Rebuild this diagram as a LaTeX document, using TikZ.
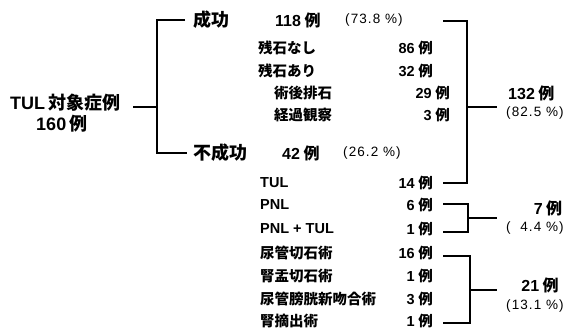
\documentclass[tikz,border=0pt]{standalone}
\usepackage{fontspec}
\setmainfont{Liberation Sans}
\newfontfamily\cjk{Noto Sans CJK JP}
\newfontfamily\pctfont[LetterSpace=8]{Liberation Sans}
\newcommand\JP[1]{{\cjk #1}}
\newcommand\Rei{\hspace{3.5pt}\JP{例}}
\begin{document}
\begin{tikzpicture}[x=1pt,y=-1pt,
  big/.style={inner sep=0pt,font=\fontsize{18}{18}\selectfont\bfseries},
  num/.style={inner sep=0pt,font=\fontsize{16}{16}\selectfont\bfseries},
  pct/.style={inner sep=0pt,font=\fontsize{13.5}{13.5}\pctfont},
  item/.style={inner sep=0pt,font=\fontsize{14.5}{14.5}\selectfont\bfseries},
  res/.style={inner sep=0pt,font=\fontsize{16}{16}\selectfont\bfseries},
  ln/.style={line width=1.1pt}]
\useasboundingbox[fill=white] (0,0) rectangle (572,331);
% left
\node[big,anchor=west] (tul) at (10,103) {TUL\,\JP{対象症例}};
\node[big] (n160) at (62,124) {160\Rei};
\coordinate (L0) at (133,107);
\coordinate (L1) at (157,107);
\coordinate (Lt) at (157,20);
\coordinate (Lb) at (157,153);
\coordinate (Lte) at (185,20);
\coordinate (Lbe) at (187,153);
\draw[ln] (L0) -- (L1);
\draw[ln] (Lte) -- (Lt) -- (Lb) -- (Lbe);
% success
\node[big,anchor=west] (seiko) at (193,20) {\JP{成功}};
\node[num,anchor=west] (n118) at (275,20) {118\Rei};
\node[pct,anchor=west] (p738) at (345,20) {(73.8 \%)};
\node[item,anchor=west] (a1) at (258,48) {\JP{残石なし}};
\node[item,anchor=east] (b1) at (433,48) {86\Rei};
\node[item,anchor=west] (a2) at (258,71) {\JP{残石あり}};
\node[item,anchor=east] (b2) at (433,71) {32\Rei};
\node[item,anchor=west] (a3) at (274,93) {\JP{術後排石}};
\node[item,anchor=east] (b3) at (450,93) {29\Rei};
\node[item,anchor=west] (a4) at (274,115) {\JP{経過観察}};
\node[item,anchor=east] (b4) at (450,115) {3\Rei};
% failure
\node[big,anchor=west] (fuseiko) at (193,153) {\JP{不成功}};
\node[num,anchor=west] (n42) at (282,153) {42\Rei};
\node[pct,anchor=west] (p262) at (343,153) {(26.2 \%)};
\node[item,anchor=west] (c1) at (260,183) {TUL};
\node[item,anchor=east] (d1) at (433,183) {14\Rei};
\node[item,anchor=west] (c2) at (260,205) {PNL};
\node[item,anchor=east] (d2) at (433,205) {6\Rei};
\node[item,anchor=west] (c3) at (260,229) {PNL + TUL};
\node[item,anchor=east] (d3) at (433,229) {1\Rei};
\node[item,anchor=west] (c4) at (260,253) {\JP{尿管切石術}};
\node[item,anchor=east] (d4) at (433,253) {16\Rei};
\node[item,anchor=west] (c5) at (260,276) {\JP{腎盂切石術}};
\node[item,anchor=east] (d5) at (433,276) {1\Rei};
\node[item,anchor=west] (c6) at (260,299) {\JP{尿管膀胱新吻合術}};
\node[item,anchor=east] (d6) at (433,299) {3\Rei};
\node[item,anchor=west] (c7) at (260,321) {\JP{腎摘出術}};
\node[item,anchor=east] (d7) at (433,321) {1\Rei};
% bracket A
\coordinate (A1) at (443,21);
\coordinate (A2) at (467,21);
\coordinate (A3) at (467,183);
\coordinate (A4) at (443,183);
\coordinate (Am) at (467,107);
\coordinate (Ae) at (497,107);
\draw[ln] (A1) -- (A2) -- (A3) -- (A4);
\draw[ln] (Am) -- (Ae);
\node[res,anchor=west] (n132) at (508,93) {132\Rei};
\node[pct,anchor=west] (p825) at (506,113) {(82.5 \%)};
% bracket B
\coordinate (B1) at (443,204);
\coordinate (B2) at (468,204);
\coordinate (B3) at (468,232);
\coordinate (B4) at (443,232);
\coordinate (Bm) at (468,218);
\coordinate (Be) at (497,218);
\draw[ln] (B1) -- (B2) -- (B3) -- (B4);
\draw[ln] (Bm) -- (Be);
\node[res] (n7) at (548,208) {7\Rei};
\node[pct,anchor=west] (p44) at (506,228) {(\ \ 4.4 \%)};
% bracket C
\coordinate (C1) at (443,256);
\coordinate (C2) at (470,256);
\coordinate (C3) at (470,323);
\coordinate (C4) at (443,323);
\coordinate (Cm) at (470,290);
\coordinate (Ce) at (497,290);
\draw[ln] (C1) -- (C2) -- (C3) -- (C4);
\draw[ln] (Cm) -- (Ce);
\node[res] (n21) at (540,285) {21\Rei};
\node[pct,anchor=west] (p131) at (506,306) {(13.1 \%)};
\end{tikzpicture}
\end{document}
